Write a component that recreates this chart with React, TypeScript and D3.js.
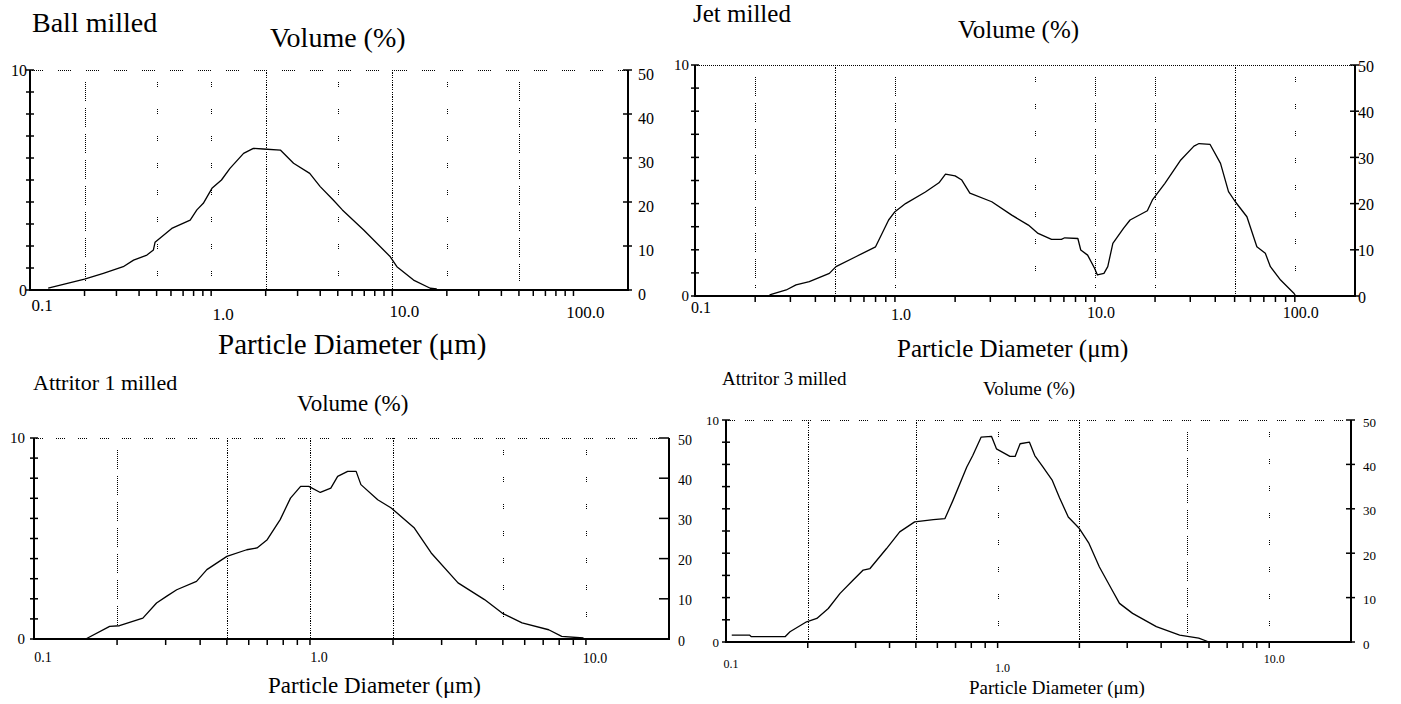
import React from 'react';
import * as d3 from 'd3';

// ---------- DATA ----------
const ballDiam = [0.126, 0.2, 0.254, 0.327, 0.373, 0.442, 0.48, 0.49, 0.606, 0.766, 0.834, 0.905, 1.01, 1.14, 1.27, 1.51, 1.71, 1.94, 2.41, 2.85, 3.5, 4.0, 4.72, 5.3, 6.95, 9.75, 10.6, 13.1, 16.2, 17.6];
const ballVol = [0.08, 0.49, 0.76, 1.06, 1.36, 1.59, 1.82, 2.17, 2.8, 3.18, 3.64, 3.94, 4.62, 5.0, 5.53, 6.21, 6.44, 6.41, 6.36, 5.76, 5.3, 4.7, 4.09, 3.64, 2.73, 1.51, 1.06, 0.45, 0.08, 0.05];

const jetDiam = [0.236, 0.286, 0.32, 0.373, 0.47, 0.507, 0.637, 0.8, 0.93, 1.0, 1.13, 1.42, 1.66, 1.79, 2.0, 2.16, 2.37, 3.05, 3.84, 4.65, 5.2, 6.07, 6.8, 7.07, 8.22, 8.5, 9.2, 9.96, 10.3, 11.1, 11.6, 12.3, 13.9, 15.0, 18.3, 19.4, 22.4, 26.9, 31.3, 33.2, 37.7, 42.5, 46.6, 50.4, 57.6, 64.6, 71.2, 75.5, 84.9, 98.9, 101];
const jetVol = [0.05, 0.26, 0.48, 0.62, 0.98, 1.27, 1.7, 2.13, 3.29, 3.65, 4.0, 4.5, 4.9, 5.28, 5.2, 5.02, 4.45, 4.08, 3.5, 3.07, 2.71, 2.45, 2.45, 2.52, 2.49, 1.99, 1.77, 1.2, 0.91, 0.98, 1.27, 2.28, 2.93, 3.29, 3.69, 4.16, 4.88, 5.89, 6.49, 6.6, 6.56, 5.74, 4.52, 4.08, 3.43, 2.13, 1.85, 1.27, 0.69, 0.12, 0];

const att1Diam = [0.154, 0.188, 0.204, 0.248, 0.278, 0.302, 0.329, 0.388, 0.423, 0.5, 0.59, 0.643, 0.7, 0.78, 0.85, 0.925, 0.99, 1.09, 1.19, 1.26, 1.37, 1.47, 1.53, 1.76, 1.97, 2.39, 2.75, 3.44, 4.29, 4.97, 5.87, 7.33, 8.17, 9.8];
const att1Vol = [0, 0.63, 0.66, 1.04, 1.79, 2.12, 2.45, 2.87, 3.45, 4.11, 4.44, 4.53, 4.94, 5.94, 7.01, 7.59, 7.59, 7.29, 7.51, 8.09, 8.34, 8.34, 7.68, 6.93, 6.52, 5.52, 4.28, 2.79, 1.96, 1.29, 0.8, 0.46, 0.13, 0.05];

const att3Diam = [0.105, 0.122, 0.124, 0.165, 0.172, 0.198, 0.216, 0.238, 0.263, 0.294, 0.32, 0.339, 0.39, 0.436, 0.495, 0.58, 0.64, 0.685, 0.77, 0.81, 0.87, 0.95, 0.99, 1.11, 1.16, 1.21, 1.31, 1.37, 1.47, 1.59, 1.69, 1.82, 2.0, 2.17, 2.37, 2.62, 2.81, 3.14, 3.84, 4.68, 5.5, 6.0];
const att3Vol = [0.31, 0.31, 0.24, 0.24, 0.46, 0.91, 1.06, 1.51, 2.19, 2.79, 3.24, 3.31, 4.21, 4.96, 5.41, 5.51, 5.56, 6.38, 7.88, 8.4, 9.23, 9.26, 8.7, 8.36, 8.36, 8.93, 9.0, 8.4, 7.88, 7.28, 6.5, 5.63, 5.11, 4.44, 3.38, 2.41, 1.74, 1.29, 0.69, 0.31, 0.17, 0];

const wideTickValues = [0.1, 1, 10, 100];
const wideTickLabels = ['0.1', '1.0', '10.0', '100.0'];
const narrowTickValues = [0.1, 1, 10];
const narrowTickLabels = ['0.1', '1.0', '10.0'];

const leftTickValues = [0, 1, 2, 3, 4, 5, 6, 7, 8, 9, 10];
const leftLabelValues = [0, 10];
const rightTickValues = [0, 10, 20, 30, 40, 50];

const ballGrid = [0.2, 0.5, 1, 2, 5, 10, 20, 50];
const jetGrid = [0.2, 0.5, 1, 5, 10, 20, 50, 100];
const att1Grid = [0.2, 0.5, 1, 2, 5, 10];
const att3Grid = [0.2, 0.5, 1, 2, 5, 10];

const titles = ['Ball milled', 'Jet milled', 'Attritor 1 milled', 'Attritor 3 milled'];
const yTitle = 'Volume (%)';
const xTitle = 'Particle Diameter (\u03bcm)';

// ---------- STYLE / LAYOUT ----------
const FONT = '"Liberation Serif", "DejaVu Serif", "Times New Roman", serif';
const DASH: Record<string, string> = {
  full: '1.2 1.2',
  seg: '1 1 1 1 1 1 1 1 1 1 1 1 1 1 1 1 1 1 1 7',
  sparse: '1 1 1 1 1 22',
};

type Panel = {
  title: string; diam: number[]; vol: number[]; xMax: number;
  grid: number[]; gridStyle: string[];
  tickValues: number[]; tickLabels: string[]; tickYs: number[]; tickDx: number; tickSize: number;
  x0: number; x1: number; yTop: number; yBottom: number;
  titleX: number; titleY: number; titleSize: number;
  volX: number; volY: number; volSize: number;
  xlabX: number; xlabY: number; xlabSize: number;
  leftSize: number; leftDx: number; rightSize: number; rightDx: number; rightDy: number;
  topDash: string; rightTick: 'cross' | 'in';
};

const panels: Panel[] = [
  {
    title: titles[0], diam: ballDiam, vol: ballVol, xMax: 200,
    grid: ballGrid, gridStyle: ['seg', 'sparse', 'sparse', 'full', 'sparse', 'full', 'sparse', 'seg'],
    tickValues: wideTickValues, tickLabels: wideTickLabels, tickYs: [311, 320, 317, 318], tickDx: 12, tickSize: 17,
    x0: 30, x1: 628, yTop: 70, yBottom: 290,
    titleX: 32, titleY: 32, titleSize: 28,
    volX: 270, volY: 47, volSize: 28,
    xlabX: 218, xlabY: 354, xlabSize: 29,
    leftSize: 16, leftDx: -3, rightSize: 16, rightDx: 10, rightDy: 4,
    topDash: '1 1 1 1 1 1 1 1 1 1 1 1 1 15', rightTick: 'cross',
  },
  {
    title: titles[1], diam: jetDiam, vol: jetVol, xMax: 200,
    grid: jetGrid, gridStyle: ['seg', 'full', 'seg', 'sparse', 'seg', 'seg', 'full', 'sparse'],
    tickValues: wideTickValues, tickLabels: wideTickLabels, tickYs: [313, 320, 318, 318], tickDx: 6, tickSize: 16,
    x0: 695, x1: 1355, yTop: 65, yBottom: 296,
    titleX: 693, titleY: 22, titleSize: 25,
    volX: 958, volY: 38, volSize: 25,
    xlabX: 897, xlabY: 357, xlabSize: 25,
    leftSize: 15, leftDx: -6, rightSize: 16, rightDx: 3, rightDy: 1,
    topDash: '1 1', rightTick: 'cross',
  },
  {
    title: titles[2], diam: att1Diam, vol: att1Vol, xMax: 20,
    grid: att1Grid, gridStyle: ['seg', 'full', 'full', 'full', 'sparse', 'sparse'],
    tickValues: narrowTickValues, tickLabels: narrowTickLabels, tickYs: [662, 662, 663], tickDx: 9, tickSize: 14,
    x0: 34, x1: 669, yTop: 438, yBottom: 639,
    titleX: 33, titleY: 390, titleSize: 22,
    volX: 297, volY: 411, volSize: 23,
    xlabX: 268, xlabY: 693, xlabSize: 23,
    leftSize: 15, leftDx: -9, rightSize: 14, rightDx: 9, rightDy: 2,
    topDash: '1 1 1 1 1 1 1 1 1 13', rightTick: 'in',
  },
  {
    title: titles[3], diam: att3Diam, vol: att3Vol, xMax: 20,
    grid: att3Grid, gridStyle: ['full', 'full', 'sparse', 'full', 'seg', 'sparse'],
    tickValues: narrowTickValues, tickLabels: narrowTickLabels, tickYs: [668, 672, 663], tickDx: 5, tickSize: 12,
    x0: 726, x1: 1351, yTop: 420, yBottom: 642,
    titleX: 722, titleY: 385, titleSize: 19,
    volX: 983, volY: 395, volSize: 19,
    xlabX: 969, xlabY: 694, xlabSize: 19,
    leftSize: 13, leftDx: -7, rightSize: 13, rightDx: 12, rightDy: 2,
    topDash: '1 1 1 1 1 1 1 1 1 10', rightTick: 'cross',
  },
];

function PanelChart({ p }: { p: Panel }) {
  const x = d3.scaleLog().domain([0.1, p.xMax]).range([p.x0, p.x1]);
  const yL = d3.scaleLinear().domain([0, 10]).range([p.yBottom, p.yTop]);
  const yR = d3.scaleLinear().domain([0, 50]).range([p.yBottom, p.yTop]);
  const pts: [number, number][] = p.diam.map((d, i) => [d, p.vol[i]]);
  const line = d3.line<[number, number]>().x((d) => x(d[0])).y((d) => yL(d[1]));
  const minor = x.ticks().filter((v) => v > 0.1 * 1.001 && v <= p.xMax * 0.999);
  const ts = { fontFamily: FONT };
  return (
    <g fill="#000">
      {/* titles */}
      <text x={p.titleX} y={p.titleY} fontSize={p.titleSize} style={ts}>{p.title}</text>
      <text x={p.volX} y={p.volY} fontSize={p.volSize} style={ts}>{yTitle}</text>
      <text x={p.xlabX} y={p.xlabY} fontSize={p.xlabSize} style={ts}>{xTitle}</text>

      {/* top dotted border */}
      <line x1={p.x0} x2={p.x1} y1={p.yTop + 0.5} y2={p.yTop + 0.5} stroke="#000" strokeWidth={1}
        strokeDasharray={p.topDash} shapeRendering="crispEdges" />

      {/* vertical grid lines */}
      {p.grid.map((g, i) => {
        const st = p.gridStyle[i];
        const full = st === 'full';
        const xx = Math.round(x(g)) + 0.5;
        return (
          <line key={'g' + i} x1={xx} x2={xx} y1={full ? p.yTop : p.yTop + 12} y2={full ? p.yBottom : p.yBottom - 8}
            stroke="#000" strokeWidth={1} strokeDasharray={DASH[st]} shapeRendering="crispEdges" />
        );
      })}

      {/* axes */}
      <line x1={p.x0} x2={p.x0} y1={p.yTop} y2={p.yBottom + 1} stroke="#000" strokeWidth={2} />
      <line x1={p.x1} x2={p.x1} y1={p.yTop} y2={p.yBottom + 1} stroke="#000" strokeWidth={2} />
      <line x1={p.x0 - 1} x2={p.x1 + 1} y1={p.yBottom} y2={p.yBottom} stroke="#000" strokeWidth={2} />

      {/* bottom minor ticks */}
      {minor.map((v, i) => (
        <line key={'m' + i} x1={x(v)} x2={x(v)} y1={p.yBottom} y2={p.yBottom + 6} stroke="#000" strokeWidth={1.5} />
      ))}

      {/* left ticks */}
      {leftTickValues.map((v) => (
        <line key={'l' + v} x1={p.x0 - 4} x2={p.x0 + 4} y1={yL(v)} y2={yL(v)} stroke="#000" strokeWidth={1.5} />
      ))}
      {leftLabelValues.map((v) => (
        <text key={'ll' + v} x={p.x0 + p.leftDx} y={yL(v)} fontSize={p.leftSize} textAnchor="end"
          dominantBaseline="central" style={ts}>{v}</text>
      ))}

      {/* right ticks */}
      {rightTickValues.map((v) => (
        <line key={'r' + v} x1={p.rightTick === 'cross' ? p.x1 - 5 : p.x1 - 10} x2={p.rightTick === 'cross' ? p.x1 + 4 : p.x1}
          y1={yR(v)} y2={yR(v)} stroke="#000" strokeWidth={1.5} />
      ))}
      {rightTickValues.map((v) => (
        <text key={'rl' + v} x={p.x1 + p.rightDx} y={yR(v) + p.rightDy} fontSize={p.rightSize}
          dominantBaseline="central" style={ts}>{v}</text>
      ))}

      {/* x tick labels */}
      {p.tickValues.map((v, i) => (
        <text key={'xt' + i} x={x(v) + p.tickDx} y={p.tickYs[i]} fontSize={p.tickSize} textAnchor="middle" style={ts}>
          {p.tickLabels[i]}
        </text>
      ))}

      {/* curve */}
      <path d={line(pts) || ''} fill="none" stroke="#000" strokeWidth={1.3} strokeLinejoin="round" />
    </g>
  );
}

export default function App() {
  return (
    <svg width={1401} height={704} viewBox="0 0 1401 704"
      style={{ position: 'absolute', left: 0, top: 0, background: '#fff', display: 'block' }}>
      <rect x={0} y={0} width={1401} height={704} fill="#fff" />
      {panels.map((p, i) => <PanelChart key={i} p={p} />)}
    </svg>
  );
}
